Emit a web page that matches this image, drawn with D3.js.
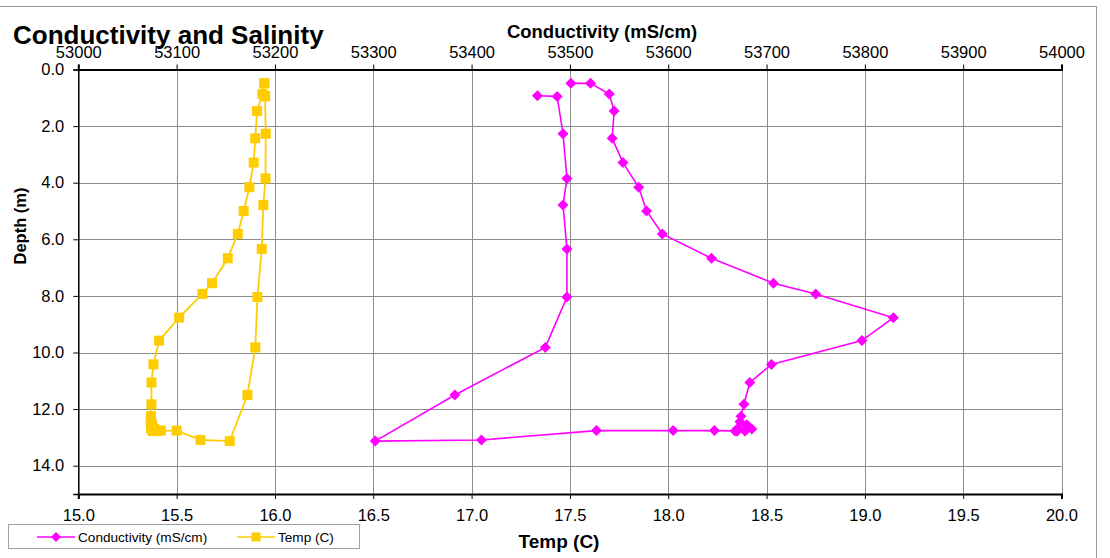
<!DOCTYPE html>
<html>
<head>
<meta charset="utf-8">
<script src="https://cdn.jsdelivr.net/npm/d3@7"></script>
<style>
  html, body { margin: 0; padding: 0; background: #fff; }
  svg { display: block; font-family: "Liberation Sans", Arial, sans-serif; }
</style>
</head>
<body>
<svg id="chart" width="1110" height="558"></svg>
<script>
// ---- Data (path order) ----
const depth = [0.49,0.49,0.87,1.47,2.43,3.29,4.16,5.00,5.81,6.67,7.55,7.93,8.77,9.58,10.42,11.06,11.83,12.25,12.45,12.55,12.68,12.70,12.77,12.78,12.77,12.76,12.76,12.76,13.09,13.13,11.50,9.82,8.04,6.34,4.79,3.85,2.27,0.95,0.93];
const temp = [15.946,15.946,15.936,15.909,15.900,15.892,15.870,15.841,15.811,15.760,15.680,15.631,15.513,15.411,15.382,15.372,15.372,15.370,15.368,15.375,15.370,15.385,15.378,15.395,15.38,15.40,15.42,15.50,15.621,15.770,15.860,15.900,15.911,15.933,15.941,15.952,15.953,15.950,15.950];
const cond = [53501,53521,53540,53545,53543,53554,53570,53578,53594,53644,53707,53750,53829,53797,53705,53683,53677,53674,53673,53680,53671,53685,53678,53670,53668,53647,53605,53527,53410,53302,53383,53475,53497,53497,53493,53497,53493,53487,53467];

const condTicks = [53000,53100,53200,53300,53400,53500,53600,53700,53800,53900,54000];
const tempTicks = [15.0,15.5,16.0,16.5,17.0,17.5,18.0,18.5,19.0,19.5,20.0];
const depthTicks = [0,2,4,6,8,10,12,14];

const seriesNames = ["Conductivity (mS/cm)", "Temp (C)"];
const titleText = "Conductivity and Salinity";
const topTitle = "Conductivity (mS/cm)";
const bottomTitle = "Temp (C)";
const leftTitle = "Depth (m)";

// ---- Layout ----
const L = 78.3, R = 1061.5, T = 69.5, B = 494;
const MAG = "#FF00FF", YEL = "#FFCC00";

const svg = d3.select("#chart");

const xTemp = d3.scaleLinear().domain([15, 20]).range([L, R]);
const xCond = d3.scaleLinear().domain([53000, 54000]).range([L, R]);
const y = d3.scaleLinear().domain([0, 15]).range([T, B]);

// outer chart border
svg.append("rect").attr("x", -1).attr("y", 6.5).attr("width", 1097.5).attr("height", 560)
  .attr("fill", "#fff").attr("stroke", "#9a9a9a").attr("stroke-width", 1);

// plot background
svg.append("rect").attr("x", L).attr("y", T).attr("width", R - L).attr("height", B - T).attr("fill", "#fff");

// gridlines
const grid = svg.append("g");
grid.selectAll("line.v").data(tempTicks.slice(1)).join("line")
  .attr("x1", d => Math.round(xTemp(d)) + 0.5).attr("x2", d => Math.round(xTemp(d)) + 0.5)
  .attr("y1", T).attr("y2", B).attr("stroke", "#8c8c8c").attr("stroke-width", 1);
grid.selectAll("line.h").data(depthTicks.slice(1)).join("line")
  .attr("x1", L).attr("x2", R)
  .attr("y1", d => Math.round(y(d)) + 0.5).attr("y2", d => Math.round(y(d)) + 0.5)
  .attr("stroke", "#8c8c8c").attr("stroke-width", 1);

// axes
const fmt1 = d3.format(".1f");
const axTop = svg.append("g").attr("transform", `translate(0,${T})`)
  .call(d3.axisTop(xCond).tickValues(condTicks).tickFormat(d3.format("d")).tickSizeOuter(0).tickSize(5).tickPadding(7));
const axBottom = svg.append("g").attr("transform", `translate(0,${B})`)
  .call(d3.axisBottom(xTemp).tickValues(tempTicks).tickFormat(fmt1).tickSizeOuter(0).tickSize(5).tickPadding(10));
const axLeft = svg.append("g").attr("transform", `translate(${L},0)`)
  .call(d3.axisLeft(y).tickValues(depthTicks).tickFormat(fmt1).tickSizeOuter(0).tickSize(5).tickPadding(9));

[axTop, axBottom, axLeft].forEach(a => {
  a.selectAll("text").attr("font-size", 16.5).attr("fill", "#000")
    .attr("font-family", "'Liberation Sans', Arial, sans-serif");
  a.selectAll(".tick line").attr("stroke", "#000");
  a.select(".domain").attr("stroke", "#000");
});
axTop.select(".domain").attr("stroke-width", 2);
axBottom.select(".domain").attr("stroke-width", 2);
axLeft.select(".domain").attr("stroke-width", 1.5);

// line generators
const lineCond = d3.line().x((d, i) => xCond(cond[i])).y((d, i) => y(depth[i]));
const lineTemp = d3.line().x((d, i) => xTemp(temp[i])).y((d, i) => y(depth[i]));
const idx = d3.range(depth.length);

const diamond = "M0,-5.5L5.5,0L0,5.5L-5.5,0Z";

// conductivity series
svg.append("path").datum(idx).attr("d", lineCond)
  .attr("fill", "none").attr("stroke", MAG).attr("stroke-width", 1.6);
svg.append("g").selectAll("path").data(idx).join("path")
  .attr("d", diamond)
  .attr("transform", i => `translate(${xCond(cond[i])},${y(depth[i])})`)
  .attr("fill", MAG);

// temperature series
svg.append("path").datum(idx).attr("d", lineTemp)
  .attr("fill", "none").attr("stroke", YEL).attr("stroke-width", 1.8);
svg.append("g").selectAll("rect").data(idx).join("rect")
  .attr("x", i => xTemp(temp[i]) - 5).attr("y", i => y(depth[i]) - 5)
  .attr("width", 10).attr("height", 10).attr("fill", YEL);

// titles
svg.append("text").attr("x", 13).attr("y", 44).attr("font-size", 26).attr("font-weight", "bold")
  .text(titleText);
svg.append("text").attr("x", 602).attr("y", 38).attr("text-anchor", "middle")
  .attr("font-size", 18.5).attr("font-weight", "bold").text(topTitle);
svg.append("text").attr("x", 559).attr("y", 548).attr("text-anchor", "middle")
  .attr("font-size", 19).attr("font-weight", "bold").text(bottomTitle);
svg.append("text").attr("transform", "translate(26,226) rotate(-90)").attr("text-anchor", "middle")
  .attr("font-size", 16.5).attr("font-weight", "bold").text(leftTitle);

// legend
const lg = svg.append("g");
lg.append("rect").attr("x", 8.5).attr("y", 524.5).attr("width", 351).attr("height", 24)
  .attr("fill", "#fff").attr("stroke", "#a0a0a0");
const items = [
  {name: seriesNames[0], color: MAG, x: 37, shape: "diamond"},
  {name: seriesNames[1], color: YEL, x: 237, shape: "square"}
];
const ly = 537;
items.forEach(it => {
  lg.append("line").attr("x1", it.x).attr("x2", it.x + 38).attr("y1", ly).attr("y2", ly)
    .attr("stroke", it.color).attr("stroke-width", 1.6);
  if (it.shape === "diamond") {
    lg.append("path").attr("d", "M0,-5L5,0L0,5L-5,0Z")
      .attr("transform", `translate(${it.x + 19},${ly})`).attr("fill", it.color);
  } else {
    lg.append("rect").attr("x", it.x + 14.5).attr("y", ly - 4.5).attr("width", 9).attr("height", 9)
      .attr("fill", it.color);
  }
  lg.append("text").attr("x", it.x + 41).attr("y", ly + 5).attr("font-size", 13.6)
    .text(it.name);
});
</script>
</body>
</html>
